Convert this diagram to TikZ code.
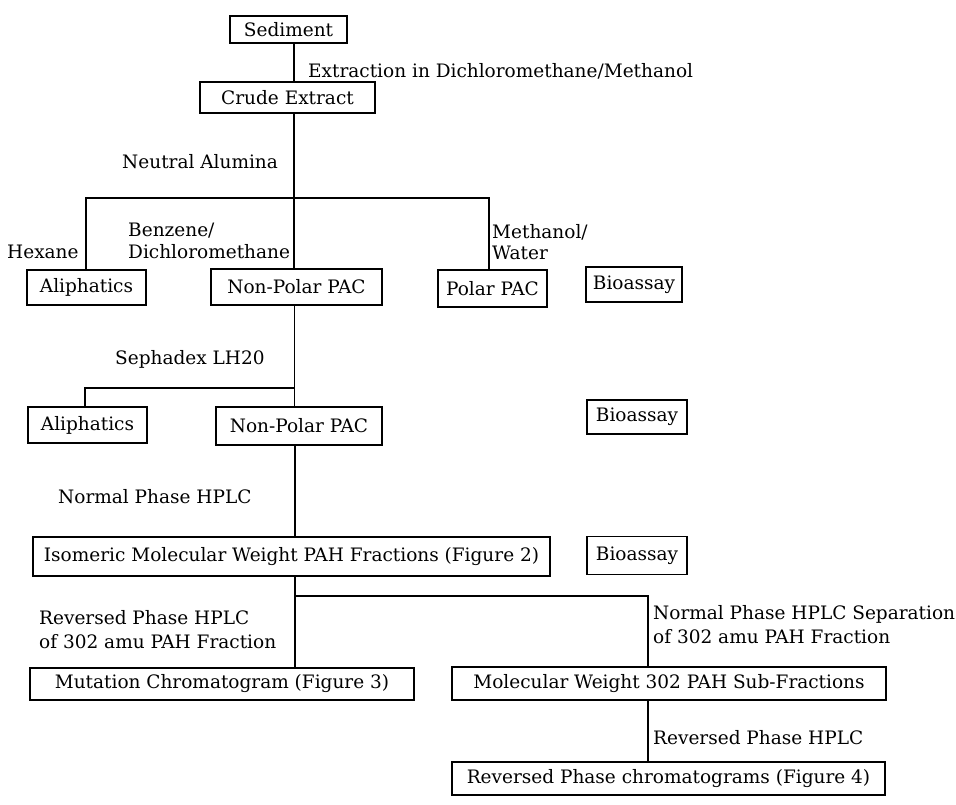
\documentclass[tikz,border=0pt]{standalone}
\usepackage{fontspec}
\setmainfont{DejaVu Serif}
\begin{document}
\begin{tikzpicture}[x=1pt,y=-1pt,
  every node/.style={font=\fontsize{18.5}{22}\selectfont},
  box/.style={draw, line width=1.6pt, inner sep=0pt, align=center},
  lbl/.style={anchor=base west, inner sep=0pt},
  conn/.style={line width=1.8pt}]
\useasboundingbox[fill=white] (0,0) rectangle (956,804);
% boxes
\node[box, minimum width=117pt, minimum height=27pt] (sed) at (288.5,29.5) {Sediment};
\node[box, minimum width=175pt, minimum height=31pt] (crude) at (287.5,97.5) {Crude Extract};
\node[box, minimum width=119pt, minimum height=35pt] (ali1) at (86.5,287.5) {Aliphatics};
\node[box, minimum width=171pt, minimum height=36pt] (np1) at (296.5,287) {Non-Polar PAC};
\node[box, minimum width=109pt, minimum height=37pt] (polar) at (492.5,288.5) {Polar PAC};
\node[box, minimum width=96pt, minimum height=35pt] (bio1) at (634,284.5) {Bioassay};
\node[box, minimum width=119pt, minimum height=36pt] (ali2) at (87.5,425) {Aliphatics};
\node[box, minimum width=166pt, minimum height=38pt] (np2) at (299,426) {Non-Polar PAC};
\node[box, minimum width=100pt, minimum height=34pt] (bio2) at (637,417) {Bioassay};
\node[box, minimum width=517pt, minimum height=39pt] (iso) at (291.5,556.5) {Isomeric Molecular Weight PAH Fractions (Figure 2)};
\node[box, minimum width=100pt, minimum height=38pt] (bio3) at (637,555.5) {Bioassay};
\node[box, minimum width=384pt, minimum height=32pt] (mut) at (222,684) {Mutation Chromatogram (Figure 3)};
\node[box, minimum width=434pt, minimum height=33pt] (mw) at (669,683.5) {Molecular Weight 302 PAH Sub-Fractions};
\node[box, minimum width=433pt, minimum height=33pt] (rpc) at (668.5,778.5) {Reversed Phase chromatograms (Figure 4)};
% labels
\node[lbl] (lext) at (308,77) {Extraction in Dichloromethane/Methanol};
\node[lbl] (lna) at (122,168.5) {Neutral Alumina};
\node[lbl] (lbz) at (128,236.5) {Benzene/};
\node[lbl] (ldcm) at (128,258.5) {Dichloromethane};
\node[lbl] (lhex) at (7,258.5) {Hexane};
\node[lbl] (lmeth) at (492,238.5) {Methanol/};
\node[lbl] (lwat) at (492,259.5) {Water};
\node[lbl] (lseph) at (115,364.5) {Sephadex LH20};
\node[lbl] (lnp) at (58,503.5) {Normal Phase HPLC};
\node[lbl] (lrp1) at (39,624.5) {Reversed Phase HPLC};
\node[lbl] (lrp2) at (39,648.5) {of 302 amu PAH Fraction};
\node[lbl] (lns1) at (653,619.5) {Normal Phase HPLC Separation};
\node[lbl] (lns2) at (653,643.5) {of 302 amu PAH Fraction};
\node[lbl] (lrp3) at (653,744.5) {Reversed Phase HPLC};
% junctions
\coordinate (j1) at (294,198);
\coordinate (j2) at (294.5,388);
\coordinate (j3) at (295,596);
% connectors
\draw[conn] (sed.south -| 294,0) -- (crude.north -| 294,0);
\draw[conn] (crude.south -| 294,0) -- (j1) -- (np1.north -| 294,0);
\draw[conn] (ali1.north -| 86,0) |- (j1) -| (polar.north -| 489,0);
\draw[conn] (np1.south -| 294.5,0) -- (j2) -- (np2.north -| 294.5,0);
\draw[conn] (ali2.north -| 85,0) |- (j2);
\draw[conn] (np2.south -| 295,0) -- (iso.north -| 295,0);
\draw[conn] (iso.south -| 295,0) -- (j3) -- (mut.north -| 295,0);
\draw[conn] (j3) -| (mw.north -| 648,0);
\draw[conn] (mw.south -| 648,0) -- (rpc.north -| 648,0);
\end{tikzpicture}
\end{document}
